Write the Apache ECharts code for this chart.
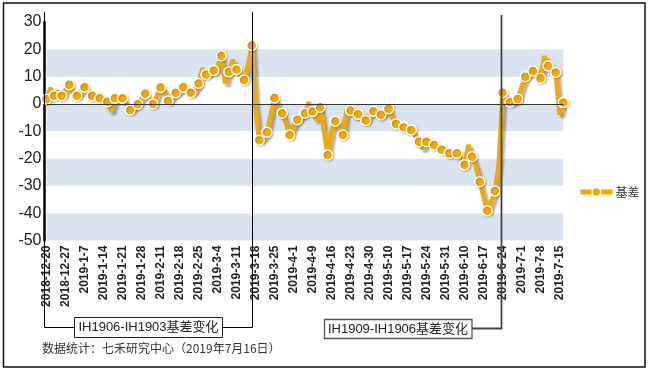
<!DOCTYPE html>
<html>
<head>
<meta charset="utf-8">
<script src="https://cdn.jsdelivr.net/npm/echarts@6/dist/echarts.min.js"></script>
<style>
html,body{margin:0;padding:0;background:#fff;}
#c{width:650px;height:371px;}
</style>
</head>
<body>
<div id="c"></div>
<script>
// Trading days (categories)
var dates = [
'2018-12-20','2018-12-21','2018-12-24','2018-12-25','2018-12-26','2018-12-27','2018-12-28',
'2019-1-2','2019-1-3','2019-1-4','2019-1-7','2019-1-8','2019-1-9','2019-1-10','2019-1-11',
'2019-1-14','2019-1-15','2019-1-16','2019-1-17','2019-1-18','2019-1-21','2019-1-22','2019-1-23',
'2019-1-24','2019-1-25','2019-1-28','2019-1-29','2019-1-30','2019-1-31',
'2019-2-1','2019-2-11','2019-2-12','2019-2-13','2019-2-14','2019-2-15','2019-2-18','2019-2-19',
'2019-2-20','2019-2-21','2019-2-22','2019-2-25','2019-2-26','2019-2-27','2019-2-28',
'2019-3-1','2019-3-4','2019-3-5','2019-3-6','2019-3-7','2019-3-8','2019-3-11','2019-3-12',
'2019-3-13','2019-3-14','2019-3-15','2019-3-18','2019-3-19','2019-3-20','2019-3-21','2019-3-22',
'2019-3-25','2019-3-26','2019-3-27','2019-3-28','2019-3-29',
'2019-4-1','2019-4-2','2019-4-3','2019-4-4','2019-4-8','2019-4-9','2019-4-10','2019-4-11',
'2019-4-12','2019-4-15','2019-4-16','2019-4-17','2019-4-18','2019-4-19','2019-4-22','2019-4-23',
'2019-4-24','2019-4-25','2019-4-26','2019-4-29','2019-4-30',
'2019-5-6','2019-5-7','2019-5-8','2019-5-9','2019-5-10','2019-5-13','2019-5-14','2019-5-15',
'2019-5-16','2019-5-17','2019-5-20','2019-5-21','2019-5-22','2019-5-23','2019-5-24','2019-5-27',
'2019-5-28','2019-5-29','2019-5-30','2019-5-31',
'2019-6-3','2019-6-4','2019-6-5','2019-6-6','2019-6-10','2019-6-11','2019-6-12','2019-6-13',
'2019-6-14','2019-6-17','2019-6-18','2019-6-19','2019-6-20','2019-6-21','2019-6-24','2019-6-25',
'2019-6-26','2019-6-27','2019-6-28',
'2019-7-1','2019-7-2','2019-7-3','2019-7-4','2019-7-5','2019-7-8','2019-7-9','2019-7-10',
'2019-7-11','2019-7-12','2019-7-15','2019-7-16'
];

// 基差 values
var basis = [
1.7, 5.8, 3.0, 4.5, 3.0, 5.0, 7.0, 4.0, 3.0, 4.5,
6.1, 4.5, 3.0, 2.5, 2.1, 1.5, 0.8, -2.8, 2.1, 1.5,
2.1, 0.0, -2.2, -1.0, -0.1, 2.0, 3.7, 1.5, 0.0, 3.0,
6.0, 5.0, 1.1, 2.5, 4.1, 5.0, 6.1, 5.5, 4.1, 5.0,
7.5, 13.0, 10.8, 11.5, 12.2, 13.5, 17.6, 7.5, 11.7, 16.2,
12.6, 10.5, 8.8, 14.0, 21.4, -2.0, -13.3, -12.5, -10.4, -4.0,
2.2, -1.0, -3.4, -7.0, -11.4, -8.0, -5.8, -4.5, -3.4, 0.6,
-2.8, -6.0, -1.2, -10.0, -18.7, -10.0, -6.3, -8.5, -11.4, -2.0,
-2.4, -4.5, -3.8, -5.0, -6.1, -4.0, -2.7, -3.5, -4.0, -3.0,
-1.8, -5.0, -7.3, -8.0, -8.5, -9.5, -9.5, -11.5, -13.8, -16.5,
-13.8, -14.5, -15.0, -16.0, -16.8, -17.5, -18.1, -18.0, -18.1, -20.0,
-22.3, -15.0, -19.3, -23.0, -28.5, -34.0, -39.1, -36.0, -31.9, -22.0,
4.1, 1.5, 0.6, 1.0, 1.8, 6.0, 10.0, 11.0, 12.1, 11.5,
9.4, 17.5, 13.9, 12.5, 11.5, -4.0, 0.5
];

var seriesName = '基差';
var yMin = -50, yMax = 30, yStep = 10;
var noteText = '数据统计：七禾研究中心（2019年7月16日）';
var box1Text = 'IH1906-IH1903基差变化';
var box2Text = 'IH1909-IH1906基差变化';
var bracket1Index = 54;     // 2019-3-15
var bracket2Index = 119.5;  // between 2019-6-21 and 2019-6-24

var chart = echarts.init(document.getElementById('c'), null, {renderer: 'canvas'});
var orange = '#f5a800';

chart.setOption({
  animation: false,
  backgroundColor: '#fff',
  grid: {left: 46.5, right: 86.7, top: 22, bottom: 130.5},
  legend: {
    left: 573, top: 181, itemWidth: 32, itemHeight: 11, itemGap: 5,
    lineStyle: {width: 5, color: orange},
    itemStyle: {color: orange, borderColor: '#fff', borderWidth: 1.5},
    textStyle: {fontSize: 12, color: '#333', fontFamily: 'Noto Sans CJK SC', padding: [0, 0, 0, -2]},
    data: [seriesName]
  },
  xAxis: {
    type: 'category', data: dates, boundaryGap: false,
    axisLine: {show: false, onZero: false},
    axisTick: {show: false},
    axisLabel: {interval: 4, rotate: 90, margin: 5, fontSize: 12, fontWeight: 'bold',
      color: '#222', fontFamily: 'Liberation Sans'},
    splitLine: {show: false}
  },
  yAxis: {
    type: 'value', min: yMin, max: yMax, interval: yStep, offset: 2,
    axisLine: {show: true, lineStyle: {color: '#000', width: 2.5}},
    axisTick: {show: false},
    axisLabel: {fontSize: 16, color: '#222', margin: 3, fontFamily: 'Liberation Sans'},
    splitLine: {show: false},
    splitArea: {show: true, areaStyle: {color: ['#dae4f0', '#ffffff']}}
  },
  series: [{
    name: seriesName, type: 'line', data: basis,
    showAllSymbol: true, symbol: 'circle',
    symbolSize: function (v, p) { return p.dataIndex % 2 === 0 ? 10 : 0; },
    lineStyle: {color: orange, width: 4.5, shadowColor: 'rgba(0,0,0,0.3)', shadowBlur: 2,
      shadowOffsetX: 3, shadowOffsetY: 3},
    itemStyle: {color: orange, borderColor: '#fff', borderWidth: 1.5,
      shadowColor: 'rgba(0,0,0,0.2)', shadowBlur: 2, shadowOffsetX: 1, shadowOffsetY: 1},
    markLine: {
      silent: true, symbol: ['none', 'none'], label: {show: false},
      lineStyle: {color: '#333', width: 1, type: 'solid'},
      data: [{yAxis: 0}]
    },
    z: 3
  }]
});

function px(i) {
  var a = Math.floor(i), b = Math.ceil(i);
  var pa = chart.convertToPixel({xAxisIndex: 0}, a);
  var pb = chart.convertToPixel({xAxisIndex: 0}, b);
  return pa + (pb - pa) * (i - a);
}
var xAxisLeft = px(0) - 2;
var xA = Math.round(px(bracket1Index)) + 0.5;
var xB = Math.round(px(bracket2Index)) + 0.5;

chart.setOption({
  graphic: [
    {type: 'rect', shape: {x: 3.5, y: 3, width: 641.5, height: 364}, style: {fill: 'none', stroke: '#111', lineWidth: 1.5}, z: 100},
    {type: 'polyline', shape: {points: [[xAxisLeft, 12], [xAxisLeft, 327.5], [74, 327.5]]}, style: {fill: 'none', stroke: '#000', lineWidth: 1}, z: 100},
    {type: 'polyline', shape: {points: [[223, 327.5], [xA, 327.5], [xA, 12]]}, style: {fill: 'none', stroke: '#000', lineWidth: 1}, z: 100},
    {type: 'rect', shape: {x: 74.5, y: 317.5, width: 148, height: 20}, style: {fill: '#fff', stroke: '#222', lineWidth: 1}, z: 100},
    {type: 'text', x: 148.5, y: 327.5, style: {text: box1Text, fontSize: 13, fill: '#222', align: 'center', verticalAlign: 'middle', fontFamily: 'Liberation Sans, Noto Sans CJK SC'}, z: 101},
    {type: 'polyline', shape: {points: [[472, 328.5], [xB, 328.5], [xB, 15]]}, style: {fill: 'none', stroke: '#444', lineWidth: 1.8}, z: 100},
    {type: 'rect', shape: {x: 324.5, y: 319.5, width: 147.5, height: 19}, style: {fill: '#fff', stroke: '#555', lineWidth: 1.3}, z: 100},
    {type: 'text', x: 398, y: 329, style: {text: box2Text, fontSize: 13, fill: '#222', align: 'center', verticalAlign: 'middle', fontFamily: 'Liberation Sans, Noto Sans CJK SC'}, z: 101},
    {type: 'text', x: 42, y: 348, style: {text: noteText, fontSize: 12, fill: '#333', align: 'left', verticalAlign: 'middle', fontFamily: 'Noto Sans CJK SC'}, z: 101}
  ]
});
</script>
</body>
</html>
